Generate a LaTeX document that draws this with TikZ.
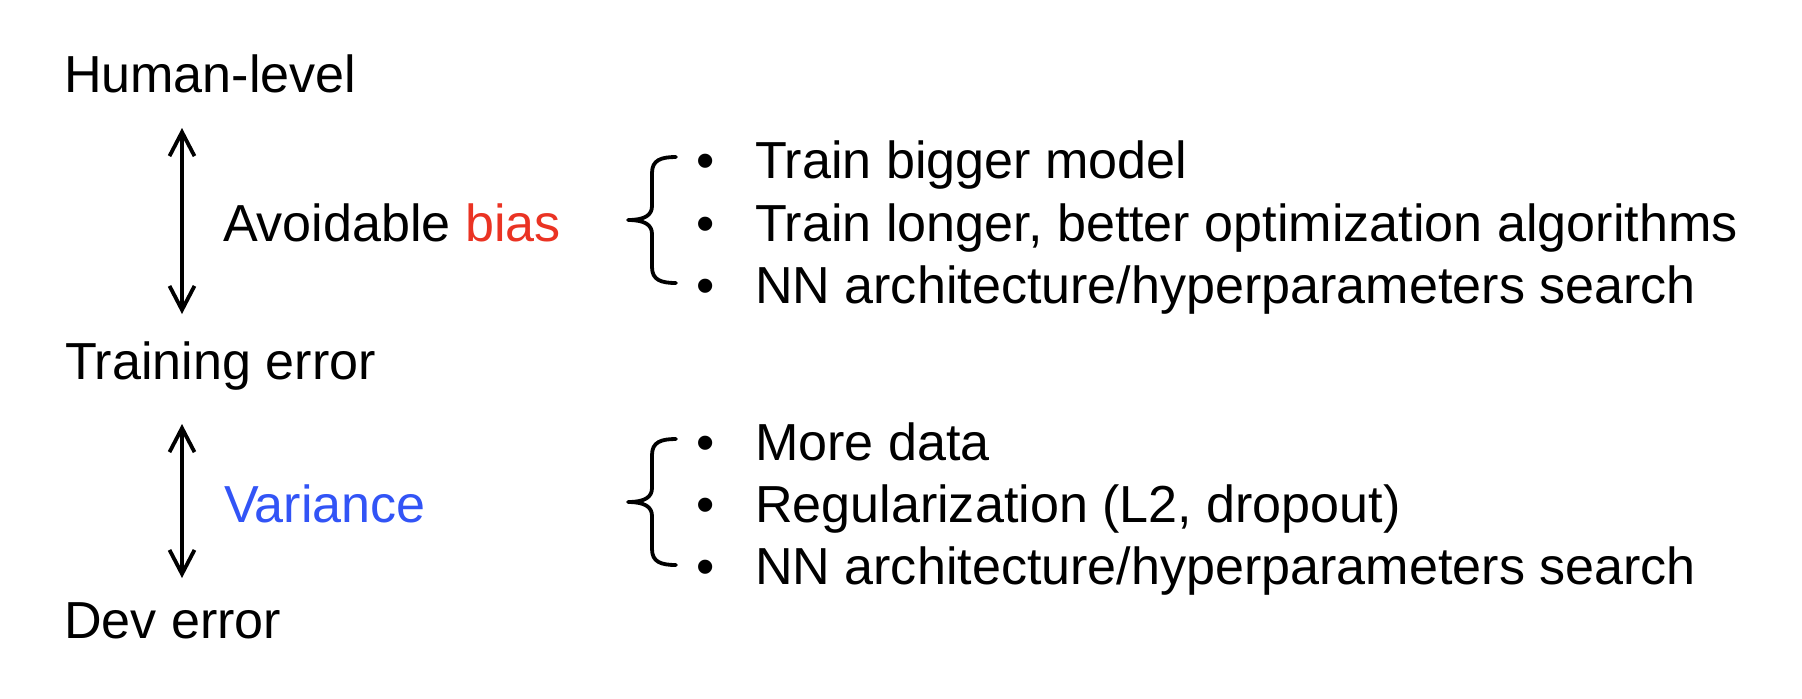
\documentclass[tikz,border=0pt]{standalone}
\usepackage{fontspec}
\setmainfont{Liberation Sans}
\usetikzlibrary{arrows.meta}
\definecolor{biasred}{RGB}{234,51,35}
\definecolor{varblue}{RGB}{50,84,246}
\begin{document}
\begin{tikzpicture}[x=0.5pt,y=-0.5pt,
  lbl/.style={anchor=base west, inner sep=0pt, outer sep=0pt, font=\fontsize{26.05}{31}\selectfont},
  bul/.style={anchor=base, inner sep=0pt, outer sep=0pt, font=\fontsize{26.05}{31}\selectfont},
  dblarrow/.style={{Straight Barb[length=12pt,width=12.5pt]}-{Straight Barb[length=12pt,width=12.5pt]}, line width=1.9pt},
  bracestyle/.style={line width=1.9pt, line cap=round, line join=round},
  mybrace/.pic={\draw[bracestyle] (48,-63) .. controls (33,-63) and (24,-60) .. (24,-47) -- (24,-14) .. controls (24,-5) and (17,0) .. (0,0) .. controls (17,0) and (24,5) .. (24,14) -- (24,47) .. controls (24,60) and (33,63) .. (48,63);}]
\useasboundingbox (0,0) rectangle (1802,698);
% left labels
\node[lbl] (hl) at (64,92) {Human-level};
\node[lbl] (tr) at (65,379) {Training error};
\node[lbl] (dev) at (64,638) {Dev error};
\node[lbl] (ab) at (223,241) {Avoidable \textcolor{biasred}{bias}};
\node[lbl, text=varblue] (var) at (224,522) {Variance};
% arrows
\coordinate (a1t) at (182,128);
\coordinate (a1b) at (182,314);
\coordinate (a2t) at (182,424);
\coordinate (a2b) at (182,578);
\draw[dblarrow] (a1t) -- (a1b);
\draw[dblarrow] (a2t) -- (a2b);
% braces
\pic at (628,220) {mybrace};
\pic at (628,502) {mybrace};
% list 1
\node[bul] (b11) at (706,178) {•};
\node[bul] (b12) at (706,241) {•};
\node[bul] (b13) at (706,303) {•};
\node[lbl] (t11) at (755,178) {Train bigger model};
\node[lbl] (t12) at (755,241) {Train longer, better optimization algorithms};
\node[lbl] (t13) at (755,303) {NN architecture/hyperparameters search};
% list 2
\node[bul] (b21) at (706,460) {•};
\node[bul] (b22) at (706,522) {•};
\node[bul] (b23) at (706,584) {•};
\node[lbl] (t21) at (755,460) {More data};
\node[lbl] (t22) at (755,522) {Regularization (L2, dropout)};
\node[lbl] (t23) at (755,584) {NN architecture/hyperparameters search};
\end{tikzpicture}
\end{document}
